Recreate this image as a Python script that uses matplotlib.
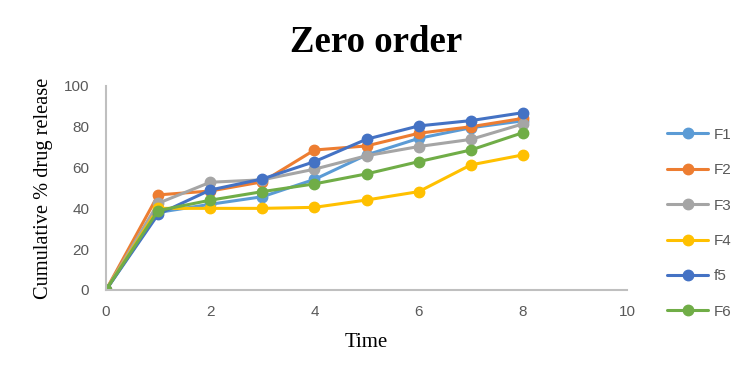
import matplotlib
matplotlib.use("Agg")
import matplotlib.pyplot as plt

time = [0, 1, 2, 3, 4, 5, 6, 7, 8]
f1 = [0, 38.0, 42.0, 45.7, 54.2, 66.2, 74.3, 79.5, 82.9]
f2 = [0, 46.6, 48.5, 53.0, 68.6, 70.6, 76.8, 80.0, 84.1]
f3 = [0, 42.5, 52.8, 54.0, 59.2, 65.8, 70.3, 73.8, 81.4]
f4 = [0, 40.0, 40.0, 40.0, 40.5, 44.1, 48.2, 61.3, 66.2]
f5 = [0, 37.1, 49.0, 54.4, 62.9, 73.9, 80.4, 83.0, 86.9]
f6 = [0, 38.9, 44.0, 48.2, 52.0, 56.9, 62.9, 68.6, 77.1]

series = [f1, f2, f3, f4, f5, f6]
names = ["F1", "F2", "F3", "F4", "f5", "F6"]
colors = ["#5B9BD5", "#ED7D31", "#A5A5A5", "#FFC000", "#4472C4", "#70AD47"]

fig = plt.figure(figsize=(7.52, 3.85), dpi=100)
ax = fig.add_axes([0.141, 0.2468, 0.693, 0.53])

for vals, name, col in zip(series, names, colors):
    ax.plot(time, vals, color=col, lw=2.2, marker="o", ms=7.5, label=name,
            solid_capstyle="round")

ax.set_xlim(0, 10)
ax.set_ylim(0, 100)
ax.set_xticks(range(0, 11, 2))
ax.set_yticks(range(0, 101, 20))
ax.tick_params(length=0, labelsize=11, labelcolor="#595959")
ax.tick_params(axis="x", pad=11)
ax.tick_params(axis="y", pad=12)
for lab in ax.get_xticklabels() + ax.get_yticklabels():
    lab.set_family("Liberation Sans")

for s in ["top", "right"]:
    ax.spines[s].set_visible(False)
for s in ["left", "bottom"]:
    ax.spines[s].set_color("#BFBFBF")
    ax.spines[s].set_linewidth(1.5)

ax.set_xlabel("Time", family="Liberation Serif", fontsize=15, labelpad=10)
ax.set_ylabel("Cumulative % drug release", family="Liberation Serif", fontsize=14.7, labelpad=8)
fig.text(0.5, 0.89, "Zero order", family="Liberation Serif", fontweight="bold",
         fontsize=26.5, ha="center", va="center")

leg = ax.legend(loc="center left", bbox_to_anchor=(0.887, 0.42),
                bbox_transform=fig.transFigure, frameon=False,
                fontsize=11, handlelength=2.7, handletextpad=0.35,
                labelspacing=1.4, borderpad=0, borderaxespad=0)
for t in leg.get_texts():
    t.set_color("#595959")
    t.set_family("Liberation Sans")

fig.savefig("out.png", dpi=100)
